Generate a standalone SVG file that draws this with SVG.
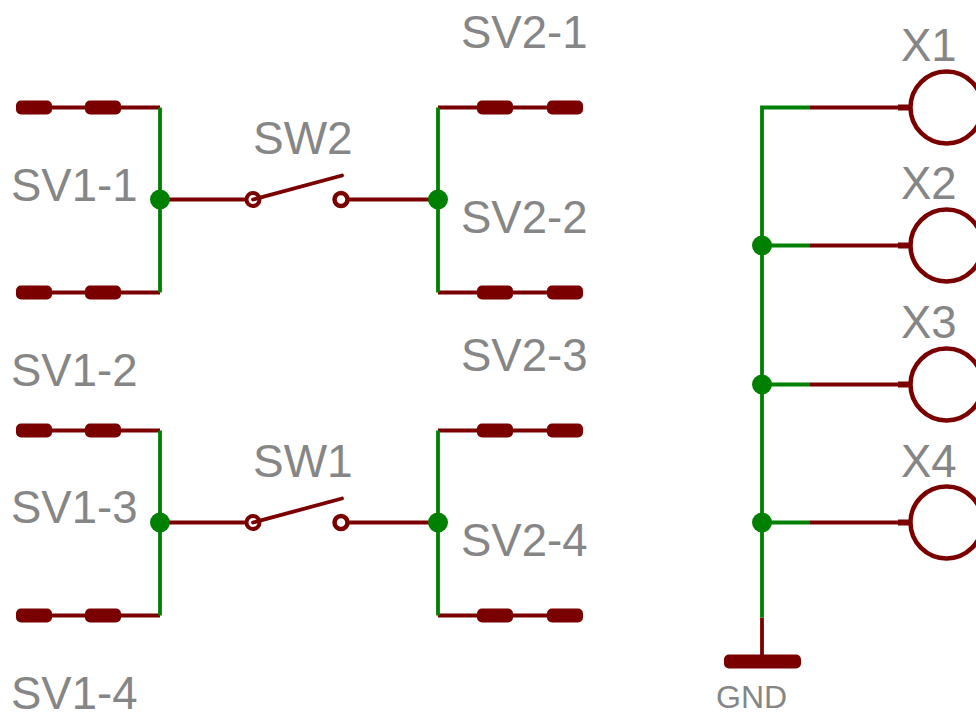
<svg xmlns="http://www.w3.org/2000/svg" width="976" height="713" viewBox="0 0 976 713">
<defs>
<style>
text{font-family:"Liberation Sans",Arial,sans-serif;font-size:45.5px;fill:#868686}
.r{stroke:#7a0000;stroke-width:3.8;fill:none}
.g{stroke:#008000;stroke-width:3.8;fill:none}
.pad{fill:#7a0000;stroke:none}
.j{fill:#008000}
.c{stroke:#7a0000;fill:#fff}
</style>
<rect id="p" class="pad" width="36" height="14" y="-7" rx="5"/>
</defs>
<rect width="976" height="713" fill="#fff"/>
<g transform="translate(0 .5)">
<g id="connectors">
<path class="r" d="M52 107H160M52 292H160M52 430H160M52 615H160M160 199H253M160 522H253M347 199H438M347 522H438M438 107H547M438 292H547M438 430H547M438 615H547M810 107H910M810 245H910M810 384H910M810 522H910M762 617V660"/>
<path class="g" d="M160 107V292M160 430V615M438 107V292M438 430V615M762 617V107H810M762 245H810M762 384H810M762 522H810"/>
</g>
<g id="SV1-1"><use href="#p" x="16" y="107"/><use href="#p" x="85" y="107"/><text x="11" y="200">SV1-1</text></g>
<g id="SV1-2"><use href="#p" x="16" y="292"/><use href="#p" x="85" y="292"/><text x="11" y="385">SV1-2</text></g>
<g id="SV1-3"><use href="#p" x="16" y="430"/><use href="#p" x="85" y="430"/><text x="11" y="522">SV1-3</text></g>
<g id="SV1-4"><use href="#p" x="16" y="615"/><use href="#p" x="85" y="615"/><text x="11" y="708">SV1-4</text></g>
<g id="SV2-1"><use href="#p" x="477" y="107"/><use href="#p" x="547" y="107"/><text x="461" y="47">SV2-1</text></g>
<g id="SV2-2"><use href="#p" x="477" y="292"/><use href="#p" x="547" y="292"/><text x="461" y="232">SV2-2</text></g>
<g id="SV2-3"><use href="#p" x="477" y="430"/><use href="#p" x="547" y="430"/><text x="461" y="370">SV2-3</text></g>
<g id="SV2-4"><use href="#p" x="477" y="615"/><use href="#p" x="547" y="615"/><text x="461" y="555">SV2-4</text></g>
<g id="SW2">
<circle class="c" cx="253" cy="199" r="6.5" stroke-width="4"/><circle class="c" cx="341" cy="199" r="6.5" stroke-width="4.5"/>
<path class="r" stroke-linecap="round" d="M253 199L342 175"/><text x="253" y="153" style="font-size:46px">SW2</text>
</g>
<g id="SW1">
<circle class="c" cx="253" cy="522" r="6.5" stroke-width="4"/><circle class="c" cx="341" cy="522" r="6.5" stroke-width="4.5"/>
<path class="r" stroke-linecap="round" d="M253 522L342 498"/><text x="253" y="476" style="font-size:46px">SW1</text>
</g>
<g id="J1"><circle class="j" cx="160" cy="199" r="10"/></g>
<g id="J2"><circle class="j" cx="438" cy="199" r="10"/></g>
<g id="J3"><circle class="j" cx="160" cy="522" r="10"/></g>
<g id="J4"><circle class="j" cx="438" cy="522" r="10"/></g>
<g id="J5"><circle class="j" cx="762" cy="245" r="10"/></g>
<g id="J6"><circle class="j" cx="762" cy="384" r="10"/></g>
<g id="J7"><circle class="j" cx="762" cy="522" r="10"/></g>
<g id="X1"><path class="r" style="stroke-width:6" d="M898 107H912"/><circle class="c" cx="946.500" cy="107" r="36" stroke-width="4.500"/><text x="901" y="60">X1</text></g>
<g id="X2"><path class="r" style="stroke-width:6" d="M898 245H912"/><circle class="c" cx="946.500" cy="245" r="36" stroke-width="4.500"/><text x="901" y="198">X2</text></g>
<g id="X3"><path class="r" style="stroke-width:6" d="M898 384H912"/><circle class="c" cx="946.500" cy="384" r="36" stroke-width="4.500"/><text x="901" y="337">X3</text></g>
<g id="X4"><path class="r" style="stroke-width:6" d="M898 522H912"/><circle class="c" cx="946.500" cy="522" r="36" stroke-width="4.500"/><text x="901" y="476">X4</text></g>
<g id="GND"><rect class="pad" x="724" y="654" width="77" height="14" rx="5"/><text x="716" y="707" style="font-size:32px">GND</text></g>
</g>
</svg>
